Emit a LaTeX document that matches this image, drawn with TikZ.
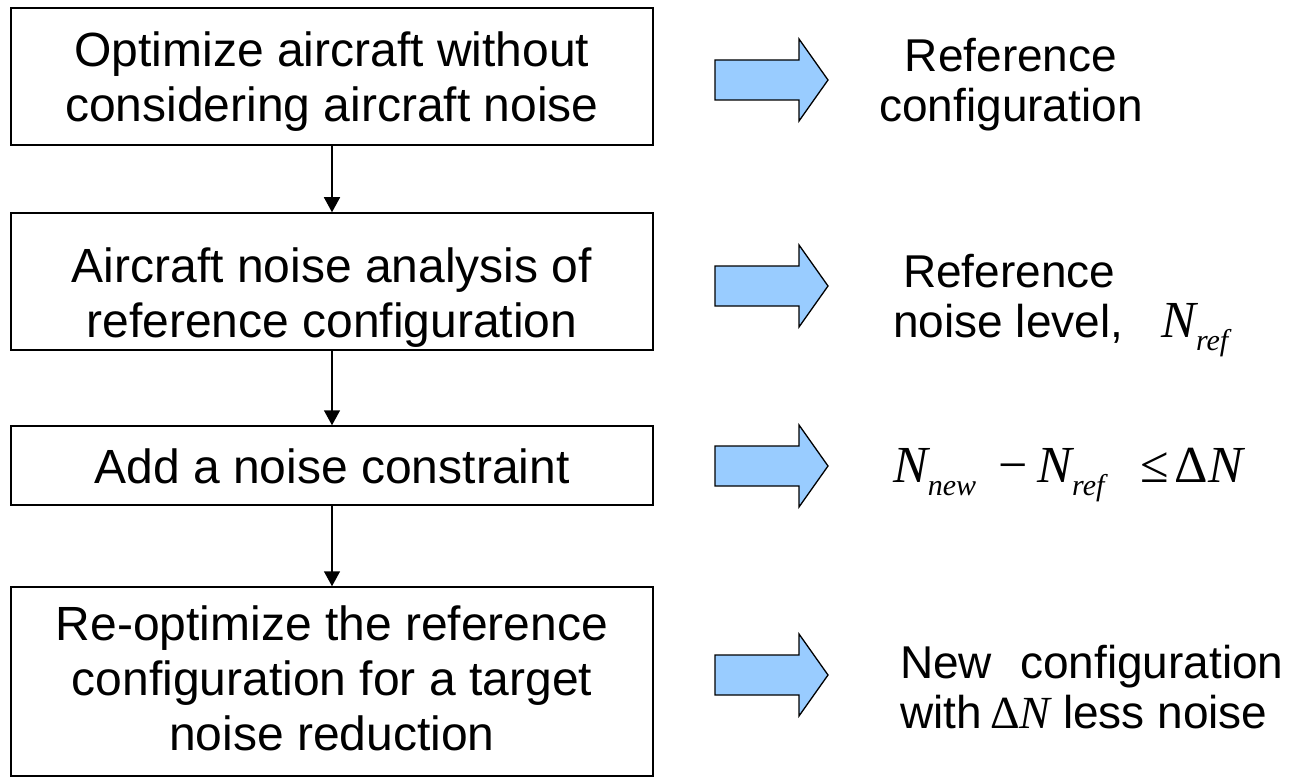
\documentclass[tikz,border=0pt]{standalone}
\usepackage{fontspec}
\setmainfont{Liberation Sans}
\newfontfamily\tnr{Liberation Serif}
\usetikzlibrary{arrows.meta}
\definecolor{arrowblue}{RGB}{153,204,255}
\newcommand\Nvar{{\fontsize{52}{52}\selectfont\tnr\itshape N}}
\newcommand\Nsmall{{\tnr\itshape N}}
\newcommand\sbs[1]{\raisebox{-13pt}{\fontsize{30}{30}\selectfont\tnr\itshape #1}}
\newcommand\mth[1]{{\fontsize{52}{52}\selectfont\tnr #1}}
\tikzset{
  stepbox/.style={draw, line width=1.5pt, inner sep=0pt},
  boxtext/.style={inner sep=0pt, align=center, anchor=base,
    font=\fontsize{48}{55}\selectfont},
  conn/.style={line width=1.5pt, -{Triangle[width=16pt,length=15pt]}},
  outtext/.style={inner sep=0pt, font=\fontsize{46}{50}\selectfont},
  pics/barrow/.style={code={
    \draw[fill=arrowblue, line width=1.3pt, line join=miter]
      (0,-20) -- (84,-20) -- (84,-41) -- (113,0) -- (84,41) -- (84,20) -- (0,20) -- cycle;}}
}
\begin{document}
\begin{tikzpicture}[x=1pt,y=-1pt]
\useasboundingbox (0,0) rectangle (1298,778);
% boxes
\node[stepbox, minimum width=642pt, minimum height=137pt] (b1) at (332,76.5) {};
\node[stepbox, minimum width=642pt, minimum height=137pt] (b2) at (332,281.5) {};
\node[stepbox, minimum width=642pt, minimum height=79pt] (b3) at (332,465.5) {};
\node[stepbox, minimum width=642pt, minimum height=189pt] (b4) at (332,681.5) {};
% box texts (positioned by the baseline of their last line)
\node[boxtext] (t1) at (332,122) {Optimize aircraft without\\considering aircraft noise};
\node[boxtext] (t2) at (332,337) {Aircraft noise analysis of\\reference configuration};
\node[boxtext] (t3) at (332,483) {Add a noise constraint};
\node[boxtext] (t4) at (332,750) {Re-optimize the reference\\configuration for a target\\noise reduction};
% connectors
\draw[conn] (b1.south) -- (b2.north);
\draw[conn] (b2.south) -- (b3.north);
\draw[conn] (b3.south) -- (b4.north);
% block arrows
\pic at (715,80) {barrow};
\pic at (715,286) {barrow};
\pic at (715,466) {barrow};
\pic at (715,675) {barrow};
% right-hand texts
\node[outtext, align=center, anchor=base] (r1) at (1011,122) {Reference\\configuration};
\node[outtext, align=left, anchor=base west] (r2) at (893,337)
  {\hspace{10pt}Reference\\noise level,\hspace{38pt}\Nvar\sbs{ref}};
\node[outtext, anchor=base west] (r3) at (893,482)
  {\Nvar\sbs{new}\hspace{22pt}\mth{−}\hspace{10pt}\Nvar\sbs{ref}\hspace{36pt}\mth{≤}\hspace{6pt}\mth{Δ}\Nvar};
\node[outtext, align=left, anchor=base west] (r4) at (900,728)
  {New\hspace{28pt}configuration\\with\hspace{8pt}{\tnr Δ}\Nsmall{} less noise};
\end{tikzpicture}
\end{document}
